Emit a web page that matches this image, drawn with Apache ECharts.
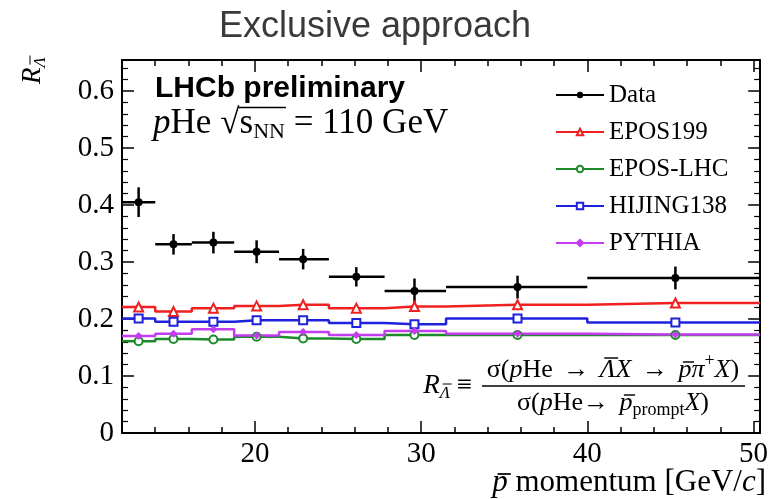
<!DOCTYPE html>
<html>
<head>
<meta charset="utf-8">
<script src="https://cdn.jsdelivr.net/npm/echarts@6/dist/echarts.min.js"></script>
<style>
  html, body { margin: 0; padding: 0; background: #fff; }
  #chart { width: 771px; height: 499px; }
</style>
</head>
<body>
<div id="chart"></div>
<script>
// Antiproton momentum bins [GeV/c] and the point position inside each bin
const binEdges   = [12, 14, 16.2, 18.75, 21.45, 24.45, 27.8, 31.5, 40, 50.4];
const binCenters = [13.0, 15.1, 17.5, 20.1, 22.9, 26.1, 29.6, 35.8, 45.3];

// Measured ratio with its uncertainty
const dataValues = [0.405, 0.331, 0.334, 0.318, 0.305, 0.274, 0.249, 0.256, 0.272];
const dataErrors = [0.026, 0.018, 0.019, 0.020, 0.018, 0.017, 0.022, 0.020, 0.020];

// Generator predictions
const epos199   = [0.221, 0.213, 0.219, 0.223, 0.225, 0.219, 0.222, 0.225, 0.228];
const eposLHC   = [0.161, 0.165, 0.164, 0.169, 0.166, 0.165, 0.172, 0.172, 0.172];
const hijing138 = [0.201, 0.195, 0.195, 0.198, 0.198, 0.193, 0.191, 0.201, 0.194];
const pythia    = [0.170, 0.174, 0.182, 0.171, 0.177, 0.172, 0.179, 0.174, 0.173];

// Axis ticks
const xMajorTicks = [20, 30, 40, 50];
const xMinorTicks = [14, 16, 18, 22, 24, 26, 28, 32, 34, 36, 38, 42, 44, 46, 48];
const xRange = [12, 50.4];
const yRange = [0, 0.6544];

const SERIF = '"Liberation Serif", "Times New Roman", serif';

// --- small helper to lay out mixed-style text runs (italic, sub/superscripts, overlines)
const mctx = document.createElement('canvas').getContext('2d');
function fontOf(r) {
  return (r.italic ? 'italic ' : '') + (r.bold ? 'bold ' : '') + r.size + 'px ' + (r.family || SERIF);
}
function widthOf(runs) {
  let w = 0;
  runs.forEach(r => { mctx.font = fontOf(r); w += mctx.measureText(r.t).width + (r.gap || 0); });
  return w;
}
function layoutRuns(runs, x0, yMid, color) {
  const els = [];
  const pos = [];
  let x = x0;
  runs.forEach(r => {
    mctx.font = fontOf(r);
    const w = mctx.measureText(r.t).width;
    const y = yMid + (r.dy || 0);
    els.push({
      type: 'text', x: x, y: y, silent: true,
      style: { text: r.t, font: fontOf(r), fill: color || '#000', align: 'left', verticalAlign: 'middle' }
    });
    if (r.over !== undefined) {
      const sh = r.italic ? r.size * 0.12 : 0;
      els.push({
        type: 'line', silent: true,
        shape: { x1: x + sh + r.size * 0.05, y1: y + r.over, x2: x + w + sh - r.size * 0.02, y2: y + r.over },
        style: { stroke: color || '#000', lineWidth: Math.max(1, r.size / 18) }
      });
    }
    pos.push({ x: x, w: w, y: y });
    x += w + (r.gap || 0);
  });
  return { els, pos, end: x };
}

// --- build step-histogram points: edge (no marker), centre (marker), ..., last edge
function stepData(vals) {
  const out = [];
  for (let i = 0; i < vals.length; i++) {
    out.push({ value: [binEdges[i], vals[i]], symbol: 'none' });
    out.push({ value: [binCenters[i], vals[i]] });
  }
  out.push({ value: [binEdges[binEdges.length - 1], vals[vals.length - 1]], symbol: 'none' });
  return out;
}
function modelSeries(name, vals, color, symbol, size) {
  return {
    type: 'line', name: name, step: 'end', data: stepData(vals),
    symbol: symbol, symbolSize: size, showAllSymbol: true,
    lineStyle: { color: color, width: 2.5 },
    itemStyle: { color: color, borderColor: color, borderWidth: 1.4 },
    emphasis: { disabled: true }, silent: true, clip: true
  };
}

const errorRows = dataValues.map((v, i) => [binEdges[i], binEdges[i + 1], binCenters[i], v, dataErrors[i]]);

// --- annotation text
const graphics = [];
graphics.push({
  type: 'text', x: 375, y: 27, silent: true,
  style: { text: 'Exclusive approach', font: '36px "Liberation Sans", Arial, sans-serif', fill: '#3a3a3a', align: 'center', verticalAlign: 'middle' }
});
graphics.push({
  type: 'text', x: 155, y: 89, silent: true,
  style: { text: 'LHCb preliminary', font: 'bold 30px "Liberation Sans", Arial, sans-serif', fill: '#000', align: 'left', verticalAlign: 'middle' }
});

// p He  sqrt(s_NN) = 110 GeV
const S2 = 35;
const line2 = layoutRuns([
  { t: 'p', italic: true, size: S2 },
  { t: 'He', size: S2, gap: 9 },
  { t: '\u221A', size: S2 },
  { t: 's', size: S2 },
  { t: 'NN', size: 22, dy: 8 },
  { t: ' = 110 GeV', size: S2 }
], 153, 124);
graphics.push(...line2.els);
{
  const rad = line2.pos[2], nn = line2.pos[4];
  graphics.push({
    type: 'line', silent: true,
    shape: { x1: rad.x + rad.w - 1, y1: 124 - S2 * 0.47, x2: nn.x + nn.w + 1, y2: 124 - S2 * 0.47 },
    style: { stroke: '#000', lineWidth: 1.5 }
  });
}

// y-axis title R_{anti-Lambda}, rotated
{
  const rt = layoutRuns([
    { t: 'R', italic: true, size: 27 },
    { t: '\u039B', italic: true, size: 17, dy: 8, over: -11 }
  ], 0, 0);
  graphics.push({ type: 'group', x: 33, y: 84, rotation: Math.PI / 2, silent: true, children: rt.els });
}

// x-axis title: p-bar momentum [GeV/c]
{
  const runs = [
    { t: 'p', italic: true, size: 31, over: -9 },
    { t: ' momentum [GeV/', size: 31 },
    { t: 'c', italic: true, size: 31 },
    { t: ']', size: 31 }
  ];
  const w = widthOf(runs);
  graphics.push(...layoutRuns(runs, 766 - w, 483).els);
}

// defining formula of the ratio
{
  const FS = 26, SUB = 18;
  const num = [
    { t: '\u03C3(', size: FS },
    { t: 'p', italic: true, size: FS },
    { t: 'He', size: FS, gap: 4 },
    { t: ' \u2192 ', size: FS, gap: 4 },
    { t: '\u039B', italic: true, size: FS, over: -12 },
    { t: 'X', italic: true, size: FS, gap: 4 },
    { t: ' \u2192 ', size: FS, gap: 4 },
    { t: 'p', italic: true, size: FS, over: -8 },
    { t: '\u03C0', italic: true, size: FS },
    { t: '+', size: SUB, dy: -9 },
    { t: 'X', italic: true, size: FS },
    { t: ')', size: FS }
  ];
  const den = [
    { t: '\u03C3(', size: FS },
    { t: 'p', italic: true, size: FS },
    { t: 'He\u2192 ', size: FS, gap: 4 },
    { t: 'p', italic: true, size: FS, over: -8 },
    { t: 'prompt', size: SUB, dy: 7 },
    { t: 'X', italic: true, size: FS },
    { t: ')', size: FS }
  ];
  const cx = 613;
  graphics.push(...layoutRuns(num, cx - widthOf(num) / 2, 370).els);
  graphics.push(...layoutRuns(den, cx - widthOf(den) / 2, 403).els);
  graphics.push({ type: 'line', silent: true, shape: { x1: 482, y1: 386, x2: 745, y2: 386 }, style: { stroke: '#000', lineWidth: 1.3 } });
  const lhs = [
    { t: 'R', italic: true, size: 27 },
    { t: '\u039B', italic: true, size: 17, dy: 8, over: -10 },
    { t: ' \u2261', size: 27 }
  ];
  graphics.push(...layoutRuns(lhs, 472 - widthOf(lhs), 386).els);
}

// --- axes
const tickLine = { color: '#000', width: 1.5 };
function xAxisDef(position, ticks, len, labels, showLine) {
  return {
    type: 'value', position: position, min: xRange[0], max: xRange[1],
    axisLine: { show: showLine, onZero: false, lineStyle: { color: '#000', width: 2 } },
    axisTick: { show: true, inside: true, length: len, customValues: ticks, lineStyle: tickLine },
    axisLabel: labels ? {
      show: true, customValues: ticks, margin: 7, color: '#000',
      fontFamily: SERIF, fontSize: 29
    } : { show: false },
    splitLine: { show: false }, minorTick: { show: false }
  };
}
function yAxisDef(position, labels) {
  return {
    type: 'value', position: position, min: yRange[0], max: yRange[1], interval: 0.1,
    axisLine: { show: true, onZero: false, lineStyle: { color: '#000', width: 2 } },
    axisTick: { show: true, inside: true, length: 12, lineStyle: tickLine },
    minorTick: { show: true, splitNumber: 5, length: 6, lineStyle: { color: '#000', width: 1.2 } },
    axisLabel: labels ? {
      show: true, margin: 8, color: '#000', fontFamily: SERIF, fontSize: 29, showMaxLabel: false,
      formatter: v => (v === 0 ? '0' : v.toFixed(1))
    } : { show: false },
    splitLine: { show: false }
  };
}

const option = {
  animation: false,
  backgroundColor: '#fff',
  grid: { left: 122, right: 7, top: 60, bottom: 66 },
  xAxis: [
    xAxisDef('bottom', xMajorTicks, 12, true, true),
    xAxisDef('bottom', xMinorTicks, 6, false, false),
    xAxisDef('top', xMajorTicks, 12, false, true),
    xAxisDef('top', xMinorTicks, 6, false, false)
  ],
  yAxis: [yAxisDef('left', true), yAxisDef('right', false)],
  legend: {
    data: [
      { name: 'Data', lineStyle: { opacity: 1, width: 2, color: '#000' } },
      'EPOS199', 'EPOS-LHC', 'HIJING138', 'PYTHIA'
    ],
    orient: 'vertical', left: 555, top: 81, padding: 0,
    itemWidth: 48, itemHeight: 8, itemGap: 9, selectedMode: false,
    textStyle: { fontFamily: SERIF, fontSize: 25, color: '#000', lineHeight: 28 }
  },
  series: [
    modelSeries('EPOS199', epos199, '#f02020', 'emptyTriangle', 9),
    modelSeries('EPOS-LHC', eposLHC, '#1c8a28', 'emptyCircle', 8),
    modelSeries('HIJING138', hijing138, '#1e22dd', 'emptyRect', 8),
    modelSeries('PYTHIA', pythia, '#c43cf0', 'diamond', 6),
    {
      type: 'custom', name: 'Data uncertainty', data: errorRows, silent: true, clip: true,
      encode: { x: [0, 1, 2], y: [3] },
      renderItem: function (params, api) {
        const v = api.value(3), e = api.value(4);
        const lo = api.coord([api.value(0), v]);
        const hi = api.coord([api.value(1), v]);
        const top = api.coord([api.value(2), v + e]);
        const bot = api.coord([api.value(2), v - e]);
        return {
          type: 'group', children: [
            { type: 'line', shape: { x1: lo[0], y1: lo[1], x2: hi[0], y2: hi[1] }, style: { stroke: '#000', lineWidth: 2.5 } },
            { type: 'line', shape: { x1: top[0], y1: top[1], x2: bot[0], y2: bot[1] }, style: { stroke: '#000', lineWidth: 2.5 } }
          ]
        };
      }
    },
    {
      type: 'line', name: 'Data', data: binCenters.map((x, i) => [x, dataValues[i]]),
      symbol: 'circle', symbolSize: 8, showAllSymbol: true,
      lineStyle: { opacity: 0, width: 2, color: '#000' },
      itemStyle: { color: '#000' }, emphasis: { disabled: true }, silent: true, z: 5
    }
  ],
  graphic: graphics
};

const chart = echarts.init(document.getElementById('chart'), null, { renderer: 'canvas' });
chart.setOption(option);
</script>
</body>
</html>
